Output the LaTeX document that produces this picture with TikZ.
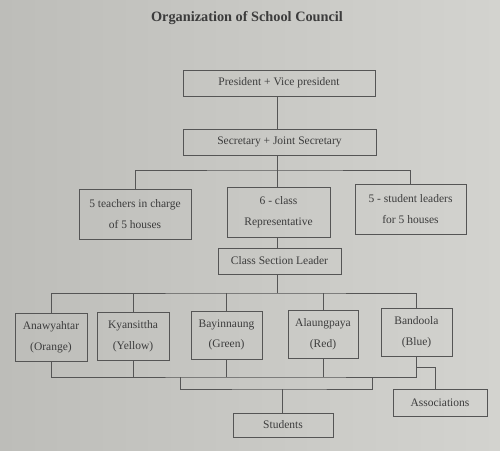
\documentclass[tikz,border=0pt]{standalone}
\usepackage{fontspec}
\setmainfont{Liberation Serif}
\begin{document}
\begin{tikzpicture}[x=1pt,y=-1pt,
  box/.style={draw=linec, line width=0.8pt, fill=none, inner sep=0pt, align=center,
    text=textc, font=\fontsize{11.5}{20.5}\selectfont},
  conn/.style={draw=linec, line width=0.8pt}]
\definecolor{bgl}{HTML}{BDBDB9}
\definecolor{bgr}{HTML}{D3D3CF}
\definecolor{linec}{HTML}{555555}
\definecolor{textc}{HTML}{3C3C3C}
\useasboundingbox (0,0) rectangle (500,450);
\shade[left color=bgl, right color=bgr] (0,0) rectangle (500,450);
\node[text=textc, font=\fontsize{14.3}{16}\selectfont\bfseries] (title) at (247,18) {Organization of School Council};
\node[box, minimum width=192pt, minimum height=26pt] (pres) at (279,83) {President + Vice president};
\node[box, minimum width=193pt, minimum height=26pt] (sec) at (279.5,142) {Secretary + Joint Secretary};
\node[box, minimum width=112pt, minimum height=50pt] (teach) at (135,214) {5 teachers in charge\\of 5 houses};
\node[box, minimum width=103pt, minimum height=50pt] (rep) at (278.5,212) {6 - class\\Representative};
\node[box, minimum width=111pt, minimum height=50pt] (lead) at (410.5,209) {5 - student leaders\\for 5 houses};
\node[box, minimum width=123pt, minimum height=26pt] (csl) at (279.5,261) {Class Section Leader};
\node[box, minimum width=72pt, minimum height=48pt] (ana) at (51,337) {Anawyahtar\\(Orange)};
\node[box, minimum width=72pt, minimum height=48pt] (kya) at (133,336) {Kyansittha\\(Yellow)};
\node[box, minimum width=71pt, minimum height=48pt] (bay) at (226.5,335) {Bayinnaung\\(Green)};
\node[box, minimum width=70pt, minimum height=48pt] (ala) at (323,334) {Alaungpaya\\(Red)};
\node[box, minimum width=71pt, minimum height=48pt] (ban) at (416.5,332) {Bandoola\\(Blue)};
\node[box, minimum width=94pt, minimum height=27pt] (assoc) at (440,402.5) {Associations};
\node[box, minimum width=100pt, minimum height=24pt] (stud) at (283,425) {Students};
% connectors
\coordinate (barA) at (277,170);
\coordinate (barB) at (277,293);
\coordinate (barC) at (277,377);
\coordinate (barD) at (282,389);
\coordinate (asc) at (435,367);
\draw[conn] (pres.south -| barA) -- (sec.north -| barA);
\draw[conn] (sec.south -| barA) -- (barA);
\draw[conn] (teach.north) |- (barA) -| (lead.north);
\draw[conn] (barA) -- (rep.north -| barA);
\draw[conn] (rep.south -| barA) -- (csl.north -| barA);
\draw[conn] (csl.south -| barA) -- (barB);
\draw[conn] (ana.north) |- (barB) -| (ban.north);
\draw[conn] (kya.north) -- (kya.north |- barB);
\draw[conn] (bay.north) -- (bay.north |- barB);
\draw[conn] (ala.north) -- (ala.north |- barB);
\draw[conn] (ana.south) |- (barC) -| (ban.south);
\draw[conn] (kya.south) -- (kya.south |- barC);
\draw[conn] (bay.south) -- (bay.south |- barC);
\draw[conn] (ala.south) -- (ala.south |- barC);
\draw[conn] (180,377) |- (barD) -| (372,377);
\draw[conn] (barD) -- (stud.north -| barD);
\draw[conn] (ban.south |- asc) -- (asc) -- (asc |- assoc.north);
\end{tikzpicture}
\end{document}
